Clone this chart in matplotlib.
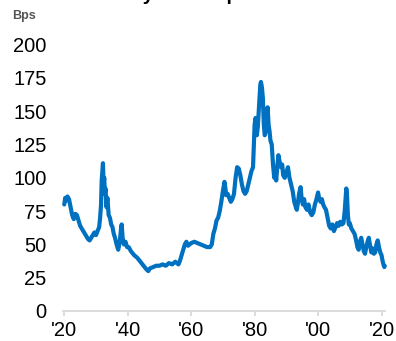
import matplotlib
matplotlib.use("Agg")
import matplotlib.pyplot as plt

plt.rcParams['font.family'] = ['Liberation Sans', 'DejaVu Sans']

# spread in basis points, read as year / value pairs
years = [1920.0, 1920.3, 1920.6, 1921.0, 1921.5, 1922.0, 1922.5, 1923.0, 1923.5, 1924.0,
         1924.5, 1925.0, 1925.5, 1926.0, 1926.5, 1927.0, 1927.5, 1928.0, 1928.5, 1929.0,
         1929.5, 1930.0, 1930.5, 1931.0, 1931.3, 1931.6, 1931.8, 1932.0, 1932.2, 1932.4,
         1932.6, 1932.8, 1933.0, 1933.3, 1933.6, 1934.0, 1934.4, 1934.8, 1935.2, 1935.6,
         1936.0, 1936.5, 1937.0, 1937.5, 1937.9, 1938.1, 1938.4, 1938.8, 1939.3, 1939.8,
         1940.3, 1941.0, 1942.0, 1943.0, 1944.0, 1945.0, 1946.0, 1946.5, 1947.0, 1948.0,
         1949.0, 1950.0, 1951.0, 1952.0, 1953.0, 1954.0, 1955.0, 1956.0, 1956.5, 1957.0,
         1957.5, 1958.0, 1958.5, 1959.0, 1960.0, 1961.0, 1962.0, 1963.0, 1964.0, 1965.0,
         1966.0, 1966.5, 1967.0, 1967.5, 1968.0, 1968.5, 1969.0, 1969.5, 1970.0, 1970.5,
         1970.8, 1971.0, 1971.5, 1972.0, 1972.5, 1973.0, 1973.5, 1974.0, 1974.5, 1975.0,
         1975.5, 1976.0, 1976.5, 1977.0, 1977.5, 1978.0, 1978.5, 1979.0, 1979.5, 1980.0,
         1980.3, 1980.7, 1981.0, 1981.3, 1981.6, 1981.8, 1982.0, 1982.3, 1982.6, 1982.9,
         1983.2, 1983.5, 1983.8, 1984.1, 1984.4, 1984.7, 1985.0, 1985.4, 1985.8, 1986.2,
         1986.5, 1986.8, 1987.2, 1987.5, 1987.9, 1988.3, 1988.7, 1989.0, 1989.5, 1990.0,
         1990.5, 1991.0, 1991.5, 1992.0, 1992.5, 1993.0, 1993.3, 1993.7, 1994.0, 1994.5,
         1994.8, 1995.2, 1995.6, 1996.0, 1996.5, 1997.0, 1997.5, 1998.0, 1998.5, 1999.0,
         1999.5, 2000.0, 2000.4, 2000.8, 2001.2, 2001.6, 2002.0, 2002.5, 2003.0, 2003.5,
         2004.0, 2004.5, 2005.0, 2005.5, 2006.0, 2006.5, 2007.0, 2007.5, 2008.0, 2008.4,
         2008.7, 2008.9, 2009.1, 2009.4, 2009.7, 2010.0, 2010.5, 2011.0, 2011.5, 2012.0,
         2012.4, 2012.8, 2013.2, 2013.6, 2014.0, 2014.4, 2014.8, 2015.2, 2015.6, 2016.0,
         2016.4, 2016.8, 2017.2, 2017.6, 2018.0, 2018.4, 2018.8, 2019.2, 2019.6, 2020.0,
         2020.3, 2020.6, 2020.9, 2021.0]
spread = [80, 85, 83, 86, 84, 78, 72, 69, 73, 72,
          68, 64, 62, 60, 58, 56, 54, 53, 55, 57,
          59, 57, 60, 63, 70, 80, 98, 104, 111, 95,
          100, 88, 92, 78, 85, 72, 70, 65, 63, 58,
          55, 50, 46, 52, 62, 65, 55, 50, 52, 48,
          48, 45, 42, 40, 37, 34, 31, 30, 32, 33,
          34, 34, 35, 34, 36, 35, 37, 35, 38, 42,
          46, 50, 52, 49, 51, 52, 51, 50, 49, 48,
          48, 50, 58, 62, 68, 70, 75, 82, 90, 97,
          92, 87, 88, 85, 82, 84, 88, 100, 108, 107,
          102, 95, 90, 88, 90, 95, 100, 105, 108, 140,
          145, 132, 138, 150, 162, 170, 172, 168, 160, 140,
          132, 135, 145, 153, 140, 135, 128, 125, 110, 100,
          105, 98, 110, 117, 112, 108, 110, 102, 100, 104,
          108, 100, 95, 90, 82, 78, 76, 82, 88, 93,
          85, 80, 84, 78, 76, 80, 74, 72, 74, 80,
          84, 89, 84, 82, 84, 80, 78, 76, 70, 64,
          62, 65, 60, 63, 66, 64, 67, 65, 66, 75,
          85, 92, 88, 72, 65, 66, 62, 60, 58, 53,
          48, 46, 52, 55, 50, 45, 43, 48, 52, 55,
          49, 44, 47, 43, 44, 50, 53, 48, 44, 42,
          38, 35, 33, 34]

yticks = [0, 25, 50, 75, 100, 125, 150, 175, 200]
xticks = [1920, 1940, 1960, 1980, 2000, 2020]
xlabels = ["'20", "'40", "'60", "'80", "'00", "'20"]

W, H = 396, 341
fig = plt.figure(figsize=(W / 100, H / 100), dpi=100)
ax = fig.add_axes([63.3 / W, 1 - 311 / H, (385 - 63.3) / W, (311 - 44.7) / H])

ax.plot(years, spread, color='#0070c0', lw=3.0, solid_joinstyle='round',
        solid_capstyle='round', clip_on=False)

ax.set_xlim(1919.7, 2021.1)
ax.set_ylim(0, 200)
ax.set_yticks(yticks)
ax.set_xticks(xticks)
ax.set_xticklabels(xlabels)

for s in ['top', 'right', 'left']:
    ax.spines[s].set_visible(False)
ax.spines['bottom'].set_color('#d9d9d9')
ax.spines['bottom'].set_linewidth(1.3)

ax.tick_params(axis='y', length=0, pad=12, labelsize=14.5, labelcolor='#000000')
ax.tick_params(axis='x', length=3.5, width=1.3, color='#d9d9d9', pad=4,
               labelsize=14.5, labelcolor='#000000')

fig.text(12 / W, 1 - 16 / H, 'Bps', fontsize=9, fontweight='bold',
         color='#555555', va='center', ha='left')
# chart title sits on the top edge, only its descenders fall inside
fig.text(91 / W, 1.0, "Moody's Baa spread", fontsize=14, fontweight='bold',
         ha='left', va='baseline')

fig.savefig('out.png', dpi=100)
